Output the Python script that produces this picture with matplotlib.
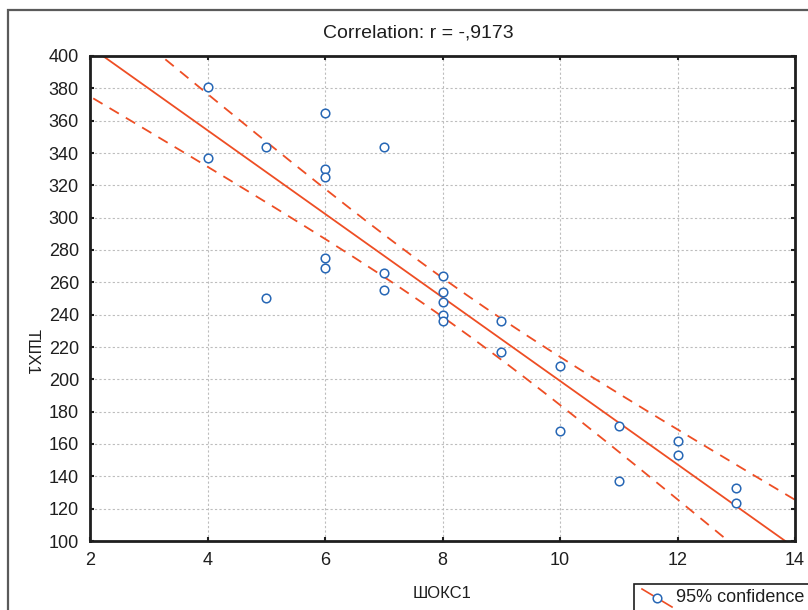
import numpy as np
import matplotlib
matplotlib.use("Agg")
import matplotlib.pyplot as plt
from matplotlib.lines import Line2D
from matplotlib.patches import Rectangle

plt.rcParams["font.family"] = ["Liberation Sans", "DejaVu Sans"]

# data
shoks1 = [4, 4, 5, 5, 6, 6, 6, 6, 6, 7, 7, 7, 8, 8, 8, 8, 8, 9, 9, 10, 10, 11, 11, 12, 12, 13, 13]
tshx1 = [381, 337, 344, 250, 365, 330, 325, 275, 269, 344, 266, 255, 264, 254, 248, 240, 236,
         236, 217, 208, 168, 171, 137, 162, 153, 133, 123.5]
x_ticks = [2, 4, 6, 8, 10, 12, 14]
y_ticks = list(range(100, 401, 20))
title = "Correlation: r = -,9173"

RED = "#EE4E24"
BLUE = "#2767B5"

x = np.array(shoks1, dtype=float)
y = np.array(tshx1, dtype=float)
n = len(x)
slope, intercept = np.polyfit(x, y, 1)
resid = y - (slope * x + intercept)
s = np.sqrt(np.sum(resid ** 2) / (n - 2))
t_crit = 2.0595  # t(0.975, df=25)
xs = np.linspace(1.5, 14.5, 300)
fit = slope * xs + intercept
half = t_crit * s * np.sqrt(1 / n + (xs - x.mean()) ** 2 / np.sum((x - x.mean()) ** 2))

W, H = 808, 610
fig = plt.figure(figsize=(W / 100, H / 100), dpi=100)

# outer frame of the graph window
fig.patches.append(Rectangle((8 / W, -0.1), 1.2, 1 - 10 / H + 0.1, transform=fig.transFigure,
                             fill=False, edgecolor="#5a5a5a", lw=1.6))

ax = fig.add_axes([90 / W, 1 - 541 / H, (795 - 90) / W, (541 - 56) / H])
ax.plot(xs, fit, color=RED, lw=1.3)
ax.plot(xs, fit + half, color=RED, lw=1.3, dashes=(6, 4.5))
ax.plot(xs, fit - half, color=RED, lw=1.3, dashes=(6, 4.5))
ax.plot(x, y, "o", ms=6.2, mfc="white", mec=BLUE, mew=1.1, zorder=3)

ax.set_xlim(2, 14)
ax.set_ylim(100, 400)
ax.set_xticks(x_ticks)
ax.set_yticks(y_ticks)
ax.grid(True, color="#bdbdbd", ls=(0, (2, 2)), lw=0.8)
ax.tick_params(direction="in", length=3, width=1.5, labelsize=13, pad=8,
               top=True, right=True, colors="#1e1e1e")
for sp in ax.spines.values():
    sp.set_linewidth(2.0)
    sp.set_color("#1e1e1e")

fig.text(418 / W, 1 - 33 / H, title, ha="center", va="center", fontsize=14, color="#1e1e1e")
fig.text(442 / W, 1 - 594 / H, "ШОКС1", ha="center", va="center", fontsize=12, color="#1e1e1e")
fig.text(32 / W, 1 - 352 / H, "ТШХ1", ha="center", va="center", rotation=270, fontsize=12,
         color="#1e1e1e")

# legend box, cut by the window edge
fig.patches.append(Rectangle((634 / W, -0.1), 0.5, 0.1 + 1 - 584 / H, transform=fig.transFigure,
                             fill=False, edgecolor="#1e1e1e", lw=1.2))
fig.add_artist(Line2D([642 / W, 672 / W], [1 - 589 / H, 1 - 607 / H], transform=fig.transFigure,
                      color=RED, lw=1.2))
fig.add_artist(Line2D([657 / W], [1 - 598 / H], transform=fig.transFigure, marker="o", ms=6.2,
                      mfc="white", mec=BLUE, mew=1.1))
fig.text(676 / W, 1 - 598 / H, "95% confidence", ha="left", va="center", fontsize=13, color="#1e1e1e")

fig.savefig("out.png", dpi=100)
